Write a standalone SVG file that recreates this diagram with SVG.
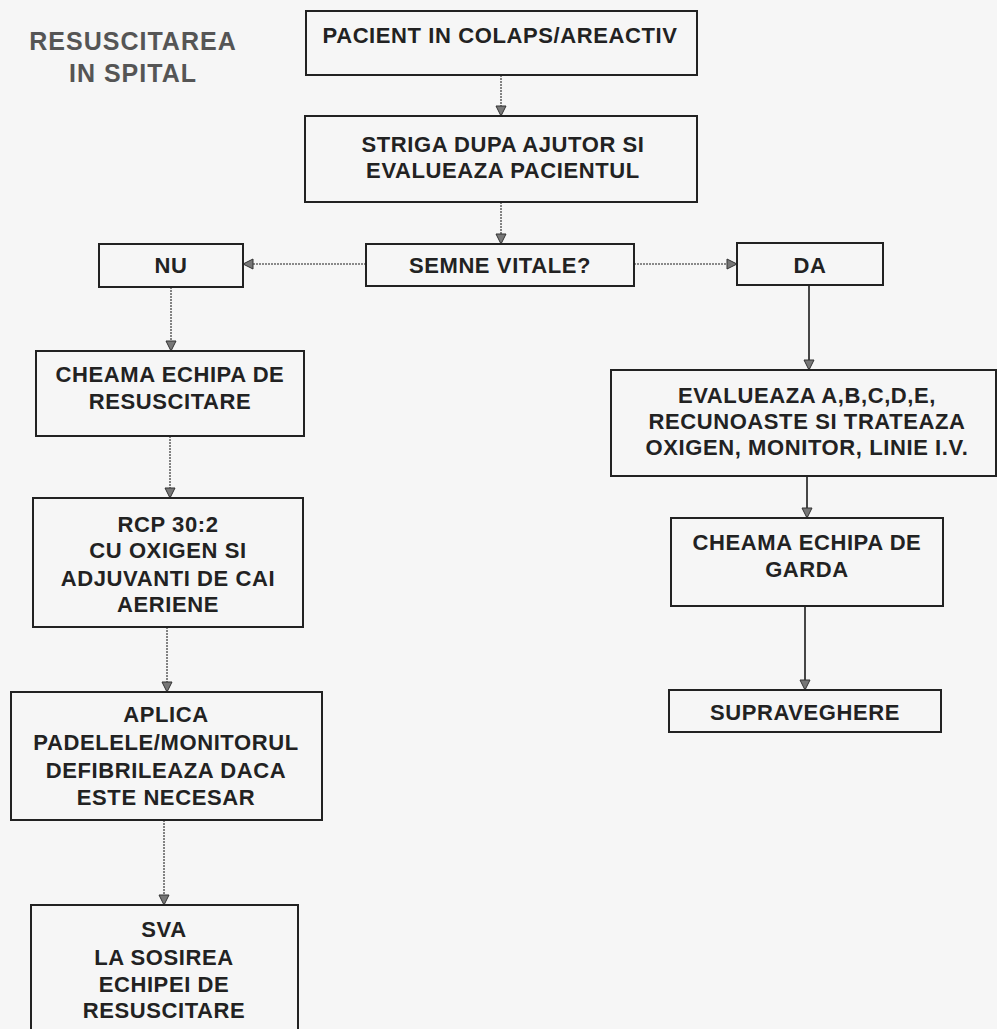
<svg xmlns="http://www.w3.org/2000/svg" width="997" height="1029" viewBox="0 0 997 1029">
<style>
.box{fill:none;stroke:#222;stroke-width:2}
.t{font-family:"Liberation Sans",Arial,sans-serif;font-weight:bold;font-size:22px;letter-spacing:0.6px;fill:#222;text-anchor:middle}
.title{font-family:"Liberation Sans",Arial,sans-serif;font-weight:bold;font-size:25px;fill:#555;text-anchor:middle;letter-spacing:1px}
.c1{stroke:#666;stroke-width:1.6;fill:none;stroke-dasharray:2 1}
.c2{stroke:#333;stroke-width:1.8;fill:none}
</style>
<defs>
<marker id="ah" markerWidth="12" markerHeight="12" refX="11" refY="6" orient="auto" markerUnits="userSpaceOnUse">
<path d="M1,1 L11,6 L1,11 Z" fill="#777" stroke="#333" stroke-width="1"/>
</marker>
</defs>
<rect width="997" height="1029" fill="#f6f6f6"/>
<g id="title">
<text class="title" x="133" y="50">RESUSCITAREA</text>
<text class="title" x="133" y="82">IN SPITAL</text>
</g>
<g id="connectors">
<line class="c1" x1="501" y1="75" x2="501" y2="116" marker-end="url(#ah)"/>
<line class="c1" x1="501" y1="202" x2="501" y2="244" marker-end="url(#ah)"/>
<line class="c1" x1="366" y1="264" x2="243" y2="264" marker-end="url(#ah)"/>
<line class="c1" x1="634" y1="264" x2="737" y2="264" marker-end="url(#ah)"/>
<line class="c1" x1="171" y1="287" x2="171" y2="351" marker-end="url(#ah)"/>
<line class="c1" x1="170" y1="436" x2="170" y2="498" marker-end="url(#ah)"/>
<line class="c1" x1="167" y1="627" x2="167" y2="692" marker-end="url(#ah)"/>
<line class="c1" x1="164" y1="820" x2="164" y2="905" marker-end="url(#ah)"/>
<line class="c2" x1="809" y1="285" x2="809" y2="370" marker-end="url(#ah)"/>
<line class="c2" x1="807" y1="476" x2="807" y2="518" marker-end="url(#ah)"/>
<line class="c2" x1="805" y1="606" x2="805" y2="690" marker-end="url(#ah)"/>
</g>
<g id="n1">
<rect class="box" x="306" y="11" width="391" height="64"/>
<text class="t" x="500" y="43">PACIENT IN COLAPS/AREACTIV</text>
</g>
<g id="n2">
<rect class="box" x="305" y="116" width="392" height="86"/>
<text class="t" x="503" y="152">STRIGA DUPA AJUTOR SI</text>
<text class="t" x="503" y="178">EVALUEAZA PACIENTUL</text>
</g>
<g id="n3">
<rect class="box" x="366" y="244" width="268" height="42"/>
<text class="t" x="500" y="273">SEMNE VITALE?</text>
</g>
<g id="nu">
<rect class="box" x="99" y="244" width="144" height="43"/>
<text class="t" x="171" y="273">NU</text>
</g>
<g id="da">
<rect class="box" x="737" y="243" width="146" height="42"/>
<text class="t" x="810" y="273">DA</text>
</g>
<g id="n4">
<rect class="box" x="36" y="351" width="268" height="85"/>
<text class="t" x="170" y="382">CHEAMA ECHIPA DE</text>
<text class="t" x="170" y="409">RESUSCITARE</text>
</g>
<g id="n5">
<rect class="box" x="33" y="498" width="270" height="129"/>
<text class="t" x="168" y="532">RCP 30:2</text>
<text class="t" x="168" y="558">CU OXIGEN SI</text>
<text class="t" x="168" y="586">ADJUVANTI DE CAI</text>
<text class="t" x="168" y="612">AERIENE</text>
</g>
<g id="n6">
<rect class="box" x="11" y="692" width="311" height="128"/>
<text class="t" x="166" y="722">APLICA</text>
<text class="t" x="166" y="750">PADELELE/MONITORUL</text>
<text class="t" x="166" y="778">DEFIBRILEAZA DACA</text>
<text class="t" x="166" y="805">ESTE NECESAR</text>
</g>
<g id="n7">
<rect class="box" x="31" y="905" width="267" height="140"/>
<text class="t" x="164" y="937">SVA</text>
<text class="t" x="164" y="965">LA SOSIREA</text>
<text class="t" x="164" y="992">ECHIPEI DE</text>
<text class="t" x="164" y="1018">RESUSCITARE</text>
</g>
<g id="n8">
<rect class="box" x="611" y="370" width="385" height="106"/>
<text class="t" x="807" y="403">EVALUEAZA A,B,C,D,E,</text>
<text class="t" x="807" y="429">RECUNOASTE SI TRATEAZA</text>
<text class="t" x="807" y="455">OXIGEN, MONITOR, LINIE I.V.</text>
</g>
<g id="n9">
<rect class="box" x="671" y="518" width="272" height="88"/>
<text class="t" x="807" y="550">CHEAMA ECHIPA DE</text>
<text class="t" x="807" y="577">GARDA</text>
</g>
<g id="n10">
<rect class="box" x="669" y="690" width="272" height="42"/>
<text class="t" x="805" y="720">SUPRAVEGHERE</text>
</g>
</svg>
